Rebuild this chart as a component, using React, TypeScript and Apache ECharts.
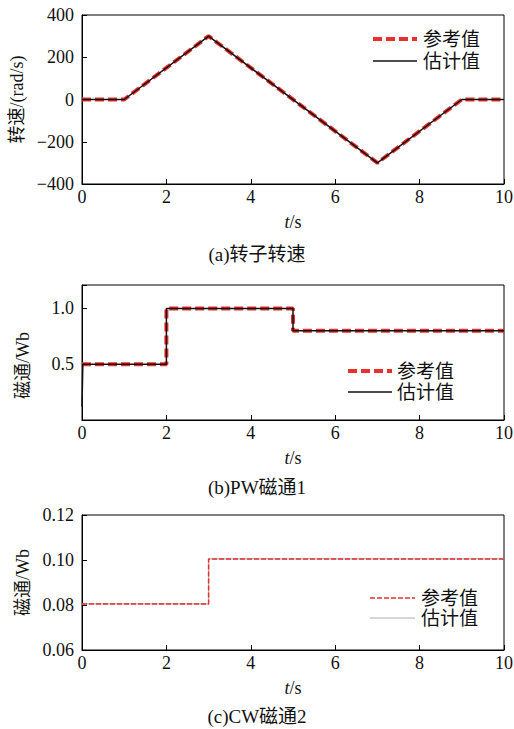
import React, { useEffect, useRef } from "react";
import * as echarts from "echarts";

// ---- data ----
const speedRef: [number, number][] = [[0, 0], [1, 0], [3, 300], [7, -300], [9, 0], [10, 0]];
const speedEst: [number, number][] = [[0, 0], [1, 0], [3, 300], [7, -300], [9, 0], [10, 0]];
const pwRef: [number, number][] = [[0, 0.5], [2, 0.5], [2, 1.0], [5, 1.0], [5, 0.8], [10, 0.8]];
const pwEst: [number, number][] = [[0, 0.12], [0.02, 0.5], [2, 0.5], [2, 1.0], [5, 1.0], [5, 0.8], [10, 0.8]];
const cwRef: [number, number][] = [[0, 0.0805], [3, 0.0805], [3, 0.1005], [10, 0.1005]];
const cwEst: [number, number][] = [[0, 0.0805], [3, 0.0805], [3, 0.1005], [10, 0.1005]];
const captions = ["(a)转子转速", "(b)PW磁通1", "(c)CW磁通2"];
const yNames = ["转速/(rad/s)", "磁通/Wb", "磁通/Wb"];
const legendNames = ["参考值", "估计值"];

const RED = "#e8302e";
const FONT = "Liberation Serif, Noto Sans CJK SC, serif";
const NUMFONT = "Liberation Serif";

export default function App() {
  const ref = useRef<HTMLDivElement>(null);
  useEffect(() => {
    document.body.style.margin = "0";
    const chart = echarts.init(ref.current!, null, { renderer: "svg" });
    const grids = [
      { left: 82, top: 15, width: 422, height: 169 },
      { left: 82, top: 285, width: 422, height: 135 },
      { left: 82, top: 515, width: 422, height: 135 },
    ];
    const lbl = { fontFamily: NUMFONT, fontSize: 18, color: "#111" };
    const nm = { fontFamily: FONT, fontSize: 18, color: "#111" };
    const xAxis = grids.map((_, i) => ({
      type: "value",
      gridIndex: i,
      min: 0,
      max: 10,
      interval: 2,
      name: "{i|t}/s",
      nameLocation: "middle",
      nameGap: 29,
      nameTextStyle: {
        ...nm,
        rich: { i: { ...nm, fontFamily: NUMFONT, fontStyle: "italic" } },
      },
      axisLine: { onZero: false, lineStyle: { color: "#000", width: 1 } },
      axisTick: { inside: true, length: 5, lineStyle: { color: "#000" } },
      axisLabel: { margin: 4, ...lbl },
      splitLine: { show: false },
    }));
    const yBase = (i: number) => ({
      type: "value",
      gridIndex: i,
      name: yNames[i],
      nameLocation: "middle",
      nameRotate: 90,
      nameGap: 50,
      nameTextStyle: { ...nm },
      axisLine: { onZero: false, lineStyle: { color: "#000", width: 1 } },
      axisTick: { inside: true, length: 5, lineStyle: { color: "#000" } },
      splitLine: { show: false },
    });
    const yAxis = [
      {
        ...yBase(0),
        min: -400,
        max: 400,
        interval: 200,
        axisLabel: {
          margin: 8,
          ...lbl,
          formatter: (v: number) => (v < 0 ? "\u2212" + Math.abs(v) : String(v)),
        },
      },
      {
        ...yBase(1),
        min: 0,
        max: 1.21,
        interval: 0.5,
        nameTextStyle: { ...nm, padding: [0, 26, 0, 0] },
        axisLabel: {
          margin: 8,
          ...lbl,
          formatter: (v: number) => (Math.abs(v - 0.5) < 1e-6 || Math.abs(v - 1) < 1e-6 ? v.toFixed(1) : ""),
        },
      },
      {
        ...yBase(2),
        min: 0.06,
        max: 0.12,
        interval: 0.02,
        axisLabel: {
          margin: 8,
          ...lbl,
          formatter: (v: number) => v.toFixed(2),
        },
      },
    ];
    const series: any[] = [
      { name: legendNames[0], type: "line", xAxisIndex: 0, yAxisIndex: 0, data: speedRef, symbol: "none", z: 2,
        lineStyle: { color: RED, width: 4, type: [9, 4] } },
      { name: legendNames[1], type: "line", xAxisIndex: 0, yAxisIndex: 0, data: speedEst, symbol: "none", z: 3,
        lineStyle: { color: "#111", width: 1.5 } },
      { name: legendNames[0], type: "line", xAxisIndex: 1, yAxisIndex: 1, data: pwRef, symbol: "none", z: 2,
        lineStyle: { color: RED, width: 4, type: [9, 4] } },
      { name: legendNames[1], type: "line", xAxisIndex: 1, yAxisIndex: 1, data: pwEst, symbol: "none", z: 3,
        lineStyle: { color: "#111", width: 1.5 } },
      { name: legendNames[1], type: "line", xAxisIndex: 2, yAxisIndex: 2, data: cwEst, symbol: "none", z: 2,
        lineStyle: { color: "#b0b0b0", width: 1.2 } },
      { name: legendNames[0], type: "line", xAxisIndex: 2, yAxisIndex: 2, data: cwRef, symbol: "none", z: 3,
        lineStyle: { color: RED, width: 1.5, type: [5, 2] } },
    ];
    const legendItems = (x1: number, x2: number, y1: number, y2: number, tx: number, small: boolean) => [
      { type: "line", shape: { x1, y1, x2, y2: y1 },
        style: { stroke: RED, lineWidth: small ? 1.5 : 4, lineDash: small ? [5, 2] : [9, 4] } },
      { type: "line", shape: { x1, y1: y2, x2, y2 },
        style: { stroke: small ? "#b0b0b0" : "#111", lineWidth: small ? 1.2 : 1.5 } },
      { type: "text", x: tx, y: y1, style: { text: legendNames[0], fontFamily: FONT, fontSize: 19, fill: "#111", verticalAlign: "middle" } },
      { type: "text", x: tx, y: y2, style: { text: legendNames[1], fontFamily: FONT, fontSize: 19, fill: "#111", verticalAlign: "middle" } },
    ];
    chart.setOption({
      animation: false,
      backgroundColor: "#fff",
      textStyle: { fontFamily: FONT },
      grid: grids.map((g) => ({
        ...g, show: true, borderColor: "#000", borderWidth: 1, backgroundColor: "transparent",
        containLabel: false, outerBoundsMode: "none",
      })),
      xAxis,
      yAxis,
      series,
      title: captions.map((c, i) => ({
        text: c,
        left: "center",
        padding: 0,
        top: [245, 478, 707][i],
        textStyle: { fontFamily: FONT, fontSize: 19, fontWeight: "normal", color: "#111" },
      })),
      graphic: [
        ...legendItems(373, 417, 39, 61, 423, false),
        ...legendItems(348, 392, 371, 392, 397, false),
        ...legendItems(370, 415, 598, 618, 421, true),
      ],
    });
    return () => chart.dispose();
  }, []);
  return <div ref={ref} style={{ width: 514, height: 729 }} />;
}
